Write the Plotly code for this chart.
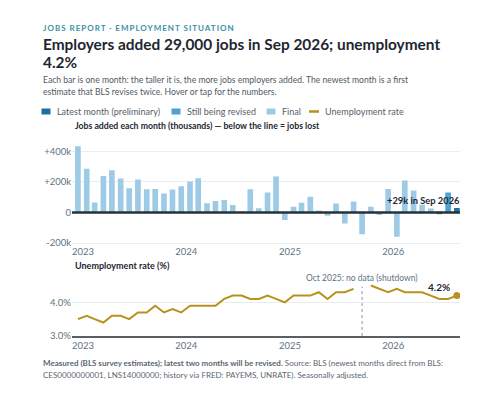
import plotly.graph_objects as go
import pandas as pd

# ---- data ----
months = pd.date_range("2023-01-01", "2026-09-01", freq="MS")
jobs_k = [432, 285, 65, 239, 276, 222, 159, 215, 152, 154, 124, 150,
          172, 202, 224, 60, 75, 82, 49, 5, 151, 28, 130, 235,
          -50, 37, 63, 102, 9, -21, 59, -72, 72, -143, 37, -17,
          154, -159, 209, 143, 51, 26, -11, 130, 29]
status = ["final"] * 42 + ["revised", "revised", "latest"]
unemp = [3.5, 3.6, 3.5, 3.4, 3.6, 3.6, 3.5, 3.7, 3.7, 3.9, 3.7, 3.8,
         3.7, 3.9, 3.9, 3.9, 3.9, 4.1, 4.2, 4.2, 4.1, 4.1, 4.2, 4.1,
         4.0, 4.2, 4.2, 4.2, 4.3, 4.1, 4.3, 4.3, 4.4, None, 4.5, 4.4,
         4.3, 4.4, 4.3, 4.3, 4.3, 4.2, 4.1, 4.1, 4.2]
year_ticks = ["2023", "2024", "2025", "2026"]
bar_ticks = [400, 200, 0, -200]
bar_tick_text = ["+400k", "+200k", "0", "-200k"]
rate_ticks = [3.0, 4.0]
rate_tick_text = ["3.0%", "4.0%"]
legend_names = ["Latest month (preliminary)", "Still being revised", "Final", "Unemployment rate"]

FONT = "Lato"
C_LATEST = "#1c6ea4"
C_REV = "#4da2d3"
C_FINAL = "#9dcbe6"
C_GOLD = "#b8911f"
C_AXIS = "#5e7380"
C_DARK = "#1d2731"

W, H = 504, 397
def py(px):
    return 1 - px / H
def pxx(px):
    return px / W

fig = go.Figure()
colors = {"latest": C_LATEST, "revised": C_REV, "final": C_FINAL}
for key, nm in zip(["latest", "revised", "final"], legend_names[:3]):
    xs = [m for m, s in zip(months, status) if s == key]
    ys = [v for v, s in zip(jobs_k, status) if s == key]
    fig.add_trace(go.Bar(x=xs, y=ys, name=nm, marker_color=colors[key],
                         marker_line_width=0, width=20 * 86400000,
                         xaxis="x", yaxis="y",
                         hovertemplate="%{x|%b %Y}: %{y:+}k<extra></extra>"))
fig.add_trace(go.Scatter(x=months, y=unemp, name=legend_names[3], mode="lines",
                         line=dict(color=C_GOLD, width=2), connectgaps=False,
                         xaxis="x2", yaxis="y2",
                         hovertemplate="%{x|%b %Y}: %{y:.1f}%<extra></extra>"))
fig.add_trace(go.Scatter(x=[months[-1]], y=[unemp[-1]], mode="markers", showlegend=False,
                         marker=dict(color=C_GOLD, size=7), xaxis="x2", yaxis="y2",
                         hoverinfo="skip"))

xr = ["2022-12-11", "2026-09-12"]
tickv = [pd.Timestamp(y + "-01-19") for y in year_ticks]
xdom = [72 / W, 460 / W]
tf = dict(size=9.5, color=C_AXIS, family=FONT)
axis_common = dict(range=xr, domain=xdom, tickvals=tickv, ticktext=year_ticks, showgrid=False,
                   zeroline=False, ticks="", tickfont=tf, automargin=False, fixedrange=True)
fig.update_layout(
    xaxis=dict(**axis_common, anchor="y", showline=False),
    xaxis2=dict(**axis_common, anchor="y2", showline=True, linecolor="#5a5f63", linewidth=1.5),
    yaxis=dict(domain=[py(244.6), py(143.6)], range=[-210, 450], tickvals=bar_ticks,
               ticktext=bar_tick_text, showgrid=True, gridcolor="#eaedf0", gridwidth=1,
               zeroline=False, tickfont=tf, ticks="", automargin=False, anchor="x",
               fixedrange=True),
    yaxis2=dict(domain=[py(336), py(282.1)], range=[3.0, 4.6], tickvals=rate_ticks,
                ticktext=rate_tick_text, showgrid=True, gridcolor="#eaedf0",
                zeroline=False, tickfont=tf, ticks="", automargin=False, anchor="x2",
                fixedrange=True),
    barmode="overlay",
    width=W, height=H,
    margin=dict(l=0, r=0, t=0, b=0),
    paper_bgcolor="white", plot_bgcolor="white",
    font=dict(family=FONT, color=C_DARK),
    showlegend=False,
)

# zero line above bars
fig.add_shape(type="line", xref="x domain", yref="y", x0=0, x1=1, y0=0, y1=0,
              line=dict(color="#263238", width=2.5), layer="above")
# shutdown dotted line
fig.add_shape(type="line", xref="x2", yref="y2 domain", x0=pd.Timestamp("2025-10-01"),
              x1=pd.Timestamp("2025-10-01"), y0=0, y1=0.915,
              line=dict(color="#8a949b", width=1, dash="dot"))

# custom legend
leg_sym_x = [41.5, 171.5, 266.5]
for x0, c in zip(leg_sym_x, [C_LATEST, C_REV, C_FINAL]):
    fig.add_shape(type="rect", xref="paper", yref="paper", x0=pxx(x0), x1=pxx(x0 + 9),
                  y0=py(114.5), y1=py(108.5), fillcolor=c, line_width=0)
fig.add_shape(type="line", xref="paper", yref="paper", x0=pxx(309), x1=pxx(319),
              y0=py(111.5), y1=py(111.5), line=dict(color=C_GOLD, width=2.5))
leg_txt_x = [55, 185, 280, 323]

ann = []
for x0, nm in zip(leg_txt_x, legend_names):
    ann.append(dict(text=nm, x=pxx(x0), y=py(111.5), xanchor="left", yanchor="middle",
                    font=dict(size=9, color="#56616b", family=FONT)))
ann.append(dict(text="<b><span style='letter-spacing:1px'>JOBS REPORT · EMPLOYMENT SITUATION</span></b>",
                x=41 / W, y=py(28), xanchor="left", yanchor="middle",
                font=dict(size=8, color="#3c8fa6", family=FONT)))
title_lines = ["Employers added 29,000 jobs in Sep 2026; unemployment", "4.2%"]
for ypx, t in zip([44, 62], title_lines):
    ann.append(dict(text="<b>" + t + "</b>", x=41 / W, y=py(ypx), xanchor="left",
                    yanchor="middle", font=dict(size=15.4, color=C_DARK, family=FONT)))
sub_lines = ["Each bar is one month: the taller it is, the more jobs employers added. The newest month is a first",
             "estimate that BLS revises twice. Hover or tap for the numbers."]
for ypx, t in zip([80, 92], sub_lines):
    ann.append(dict(text=t, x=41 / W, y=py(ypx), xanchor="left", yanchor="middle",
                    font=dict(size=8.6, color="#4f5962", family=FONT)))
ann.append(dict(text="<b>Jobs added each month (thousands) — below the line = jobs lost</b>",
                x=73 / W, y=py(126), xanchor="left", yanchor="middle",
                font=dict(size=8.7, color=C_DARK, family=FONT)))
ann.append(dict(text="<b>Unemployment rate (%)</b>", x=73 / W, y=py(265), xanchor="left",
                yanchor="middle", font=dict(size=9, color=C_DARK, family=FONT)))
ann.append(dict(text="<b>+29k in Sep 2026</b>", xref="x", yref="y", x=months[-1], y=jobs_k[-1],
                xanchor="right", yanchor="middle", xshift=5, yshift=8, showarrow=False,
                font=dict(size=9.3, color=C_DARK, family=FONT)))
ann.append(dict(text="Oct 2025: no data (shutdown)", xref="x2", yref="y2 domain",
                x=pd.Timestamp("2025-10-01"), y=1, xanchor="center", yanchor="middle",
                yshift=4, showarrow=False, font=dict(size=8.5, color=C_AXIS, family=FONT)))
ann.append(dict(text="<b>4.2%</b>", xref="x2", yref="y2", x=months[-1], y=unemp[-1],
                xanchor="right", yanchor="middle", xshift=-5, yshift=9, showarrow=False,
                font=dict(size=10, color=C_DARK, family=FONT)))
foot_lines = ["<b>Measured (BLS survey estimates); latest two months will be revised.</b> Source: BLS (newest months direct from BLS:",
              "CES0000000001, LNS14000000; history via FRED: PAYEMS, UNRATE). Seasonally adjusted."]
for ypx, t in zip([363, 375], foot_lines):
    ann.append(dict(text=t, x=41 / W, y=py(ypx), xanchor="left", yanchor="middle",
                    font=dict(size=8.0, color="#5b6670", family=FONT)))
for a in ann:
    a.setdefault("xref", "paper")
    a.setdefault("yref", "paper")
    a.setdefault("showarrow", False)
    fig.add_annotation(**a)

fig.write_html("out.html")
